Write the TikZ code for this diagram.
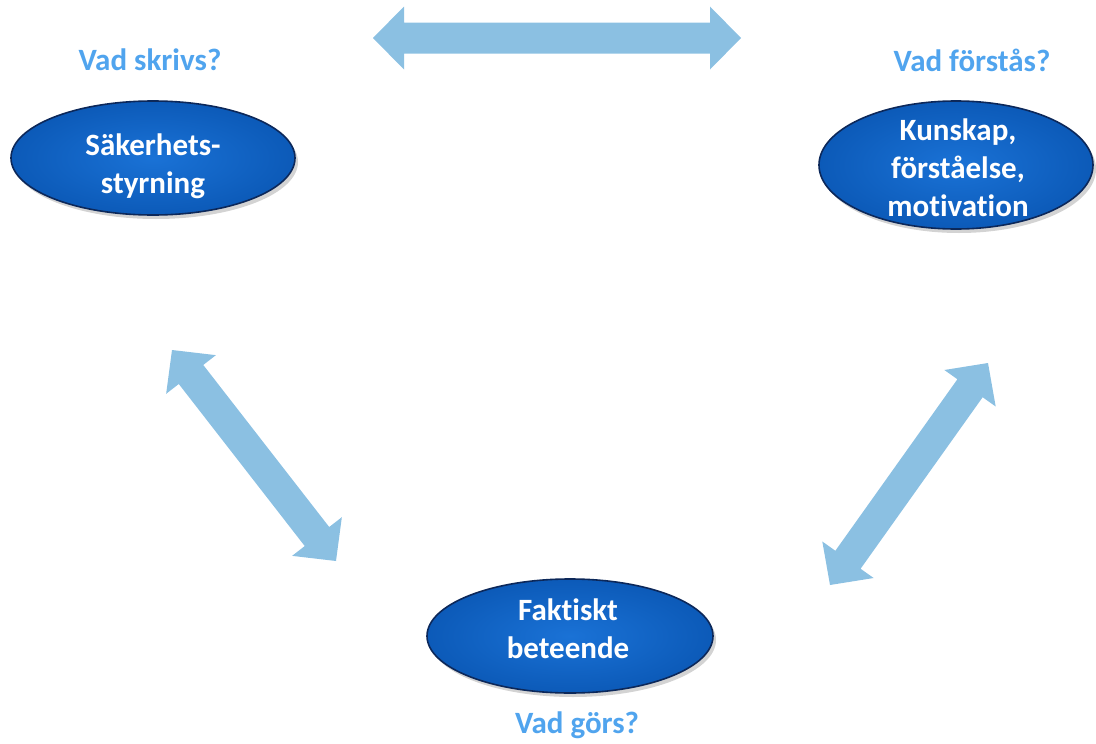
\documentclass[tikz,border=0pt]{standalone}
\usepackage{fontspec}
\setmainfont[Ligatures=NoCommon,Contextuals=NoAlternate,RawFeature={-liga;-clig;-dlig}]{Carlito}
\usetikzlibrary{calc,shapes.geometric,shadows}
\definecolor{arrowcol}{RGB}{139,192,226}
\definecolor{labelcol}{RGB}{80,164,238}
\definecolor{ellin}{RGB}{26,114,214}
\definecolor{ellout}{RGB}{12,90,184}
\definecolor{ellline}{RGB}{12,40,90}
\tikzset{
  ellbox/.style={ellipse, draw=ellline, line width=1.6pt, inner sep=0pt,
    inner color=ellin, outer color=ellout,
    drop shadow={opacity=0.35, shadow xshift=3pt, shadow yshift=-4pt}},
  elltext/.style={text=white, font=\fontsize{31}{38}\selectfont\bfseries, align=center, inner sep=0pt},
  qlabel/.style={text=labelcol, font=\fontsize{31}{38}\selectfont\bfseries, inner sep=0pt},
  arrowfill/.style={fill=arrowcol}
}
\newcommand\dblarrow[2]{%
  \coordinate (#1h) at ($(#1)!31pt!(#2)$);
  \coordinate (#2h) at ($(#2)!31pt!(#1)$);
  \fill[arrowfill] (#1) -- ($(#1h)!31.5pt!90:(#2)$) -- ($(#1h)!15.5pt!90:(#2)$)
    -- ($(#2h)!15.5pt!-90:(#1)$) -- ($(#2h)!31.5pt!-90:(#1)$) -- (#2)
    -- ($(#2h)!31.5pt!90:(#1)$) -- ($(#2h)!15.5pt!90:(#1)$)
    -- ($(#1h)!15.5pt!-90:(#2)$) -- ($(#1h)!31.5pt!-90:(#2)$) -- cycle;
}
\begin{document}
\begin{tikzpicture}[x=1pt,y=-1pt]
\useasboundingbox (0,0) rectangle (1096,744);
% ellipses
\node[ellbox, minimum width=284pt, minimum height=114pt] (sak) at (153,158) {};
\node[elltext] (sakt) at (153,166) {Säkerhets-\\styrning};
\node[ellbox, minimum width=274pt, minimum height=128pt] (kun) at (956,165) {};
\node[elltext] (kunt) at (958,168) {Kunskap,\\förståelse,\\motivation};
\node[ellbox, minimum width=286pt, minimum height=114pt] (fak) at (570,636) {};
\node[elltext] (fakt) at (568,629) {Faktiskt\\beteende};
% labels
\node[qlabel] (q1) at (150,60) {Vad skrivs?};
\node[qlabel] (q2) at (972,60) {Vad förstås?};
\node[qlabel] (q3) at (577,725) {Vad görs?};
% arrows
\coordinate (a1) at (373,38);
\coordinate (a2) at (741,38);
\coordinate (b1) at (172,350);
\coordinate (b2) at (336,561);
\coordinate (c1) at (988,363);
\coordinate (c2) at (830,585);
\dblarrow{a1}{a2}
\dblarrow{b1}{b2}
\dblarrow{c1}{c2}
\end{tikzpicture}
\end{document}
